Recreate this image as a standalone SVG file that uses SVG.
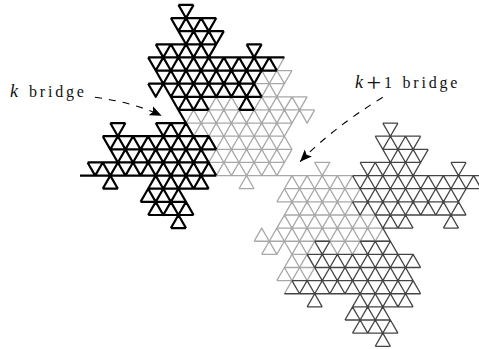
<svg xmlns="http://www.w3.org/2000/svg" xmlns:xlink="http://www.w3.org/1999/xlink" width="479" height="349" viewBox="0 0 479 349">
<style>
.lat,#frac{fill:none;vector-effect:non-scaling-stroke;stroke-linejoin:round;stroke-linecap:butt}
.g{stroke:#a8a8a8;stroke-width:1.3}
.b{stroke:#000;stroke-width:2.2}
.d{stroke:#444;stroke-width:1.3}
text{font-family:"Liberation Serif","Times New Roman",serif;font-size:16px;fill:#111}
.sp{letter-spacing:2.8px}
.m{font-style:italic;font-size:18px}
.pl{font-size:26px}
.cv{fill:none;stroke:#000;stroke-width:1.1;stroke-dasharray:7 7}
</style>
<defs>
<marker id="ah" markerUnits="userSpaceOnUse" markerWidth="14" markerHeight="12" refX="12" refY="5" orient="auto"><path d="M0 0L12 5L0 10L2.5 5Z" fill="#000"/></marker>
<path id="frac" d="M-1 0H1M-2 1H4M-1 2H5M-4 3H4M8 3H10M-5 4H13M-4 5H12M-5 6H9M-2 7H10M-1 8H3M7 8H9M-10 9H-8M-4 9H0M-11 10H3M-10 11H4M-13 12H3M-14 13H4M-11 14H-9M-5 14H3M-6 15H0M-5 16H1M-2 17H0
M-1 0l1 1 1-1
M-2 1l1 1 1-1 1 1 1-1 1 1 1-1
M-1 2l1 1 1-1 1 1 1-1 1 1 1-1
M-4 3l1 1 1-1 1 1 1-1 1 1 1-1 1 1 1-1
M8 3l1 1 1-1
M-5 4l1 1 1-1 1 1 1-1 1 1 1-1 1 1 1-1 1 1 1-1 1 1 1-1 1 1 1-1 1 1 1-1 1 1
M-4 5l1 1 1-1 1 1 1-1 1 1 1-1 1 1 1-1 1 1 1-1 1 1 1-1 1 1 1-1
M-5 6l1 1 1-1 1 1 1-1 1 1 1-1 1 1 1-1 1 1 1-1 1 1 1-1 1 1 1-1 1 1
M-2 7l1 1 1-1 1 1 1-1 1 1
M7 8l1-1 1 1
M-1 8l1 1
M-10 9l1 1 1-1
M-4 9l1 1 1-1 1 1 1-1 1 1
M-11 10l1 1 1-1 1 1 1-1 1 1 1-1 1 1 1-1 1 1 1-1 1 1 1-1 1 1 1-1 1 1
M-10 11l1 1 1-1 1 1 1-1 1 1 1-1 1 1 1-1 1 1 1-1 1 1 1-1 1 1
M-13 12l1 1 1-1 1 1 1-1 1 1 1-1 1 1 1-1 1 1 1-1 1 1 1-1 1 1 1-1 1 1 1-1 1 1
M-11 14l1-1 1 1
M-5 14l1-1 1 1 1-1 1 1 1-1 1 1 1-1 1 1
M-6 15l1-1 1 1 1-1 1 1 1-1 1 1
M-5 16l1-1 1 1 1-1 1 1 1-1 1 1
M-2 17l1-1 1 1"/>
</defs>
<g id="gray-bridge">
<path class="lat g" transform="translate(186,4.9) scale(7.57,13.13)" d="M10 5H14M9 6H13M10 7H16M3 8H17M0 9H14M1 10H13M4 11H14M3 12H13M4 13H22M7 14H9M13 14H23M12 15H22M13 16H25M12 17H26M9 18H27M10 19H12M14 19H16M13 20H17M12 21H14
M13 4l-1 1
M10 5l1 1 1-1 1 1 1-1
M10 7l1-1 1 1 1-1
M3 8l1-1 1 1 1-1 1 1
M9 8l1-1 1 1 1-1 1 1 1-1 1 1 1-1
M0 9l1-1 1 1 1-1 1 1 1-1 1 1 1-1 1 1 1-1 1 1 1-1 1 1 1-1 1 1 1-1 1 1 1-1
M1 10l1-1 1 1 1-1 1 1 1-1 1 1 1-1 1 1 1-1 1 1 1-1 1 1 1-1
M4 11l1-1 1 1 1-1 1 1 1-1 1 1 1-1 1 1 1-1 1 1
M3 12l1-1 1 1 1-1 1 1 1-1 1 1 1-1 1 1 1-1 1 1 1-1
M4 13l1-1 1 1 1-1 1 1 1-1 1 1 1-1 1 1 1-1
M7 14l1-1 1 1
M17 12H19L18 13Z
M13 14l1-1 1 1 1-1 1 1 1-1 1 1 1-1 1 1 1-1
M12 15l1-1 1 1 1-1 1 1 1-1 1 1 1-1 1 1 1-1 1 1 1-1
M13 16l1-1 1 1 1-1 1 1 1-1 1 1 1-1 1 1 1-1
M12 17l1-1 1 1 1-1 1 1 1-1 1 1 1-1 1 1 1-1 1 1 1-1 1 1 1-1
M9 18l1-1 1 1 1-1 1 1 1-1 1 1 1-1 1 1 1-1 1 1 1-1 1 1 1-1 1 1 1-1 1 1 1-1
M10 19l1-1 1 1 1-1 1 1 1-1 1 1 1-1
M19 18l1 1 1-1 1 1 1-1
M13 20l1-1 1 1 1-1 1 1
M12 21l1-1 1 1 1-1 1 1 1-1
M13 22l1-1"/>
</g>
<g id="k-fractal">
<use xlink:href="#frac" href="#frac" class="d" transform="translate(390.39,123.07) scale(7.57,13.13)"/>
<use xlink:href="#frac" href="#frac" class="b" transform="translate(186,4.9) scale(7.57,13.13)"/>
</g>
<g id="connectors">
<path class="cv" d="M95 97.3Q132 102 161.7 115.7" marker-end="url(#ah)"/>
<path class="cv" d="M382.7 97.3Q332 128.5 300 161.7" marker-end="url(#ah)"/>
</g>
<g id="labels">
<text x="10" y="97" class="m">k</text>
<text x="29" y="97" class="sp">bridge</text>
<text y="87.5"><tspan x="355" class="m">k</tspan><tspan x="366.5" y="91" class="pl">+</tspan><tspan x="384" y="87.5">1</tspan></text>
<text x="402.5" y="87.5" class="sp">bridge</text>
</g>
</svg>
